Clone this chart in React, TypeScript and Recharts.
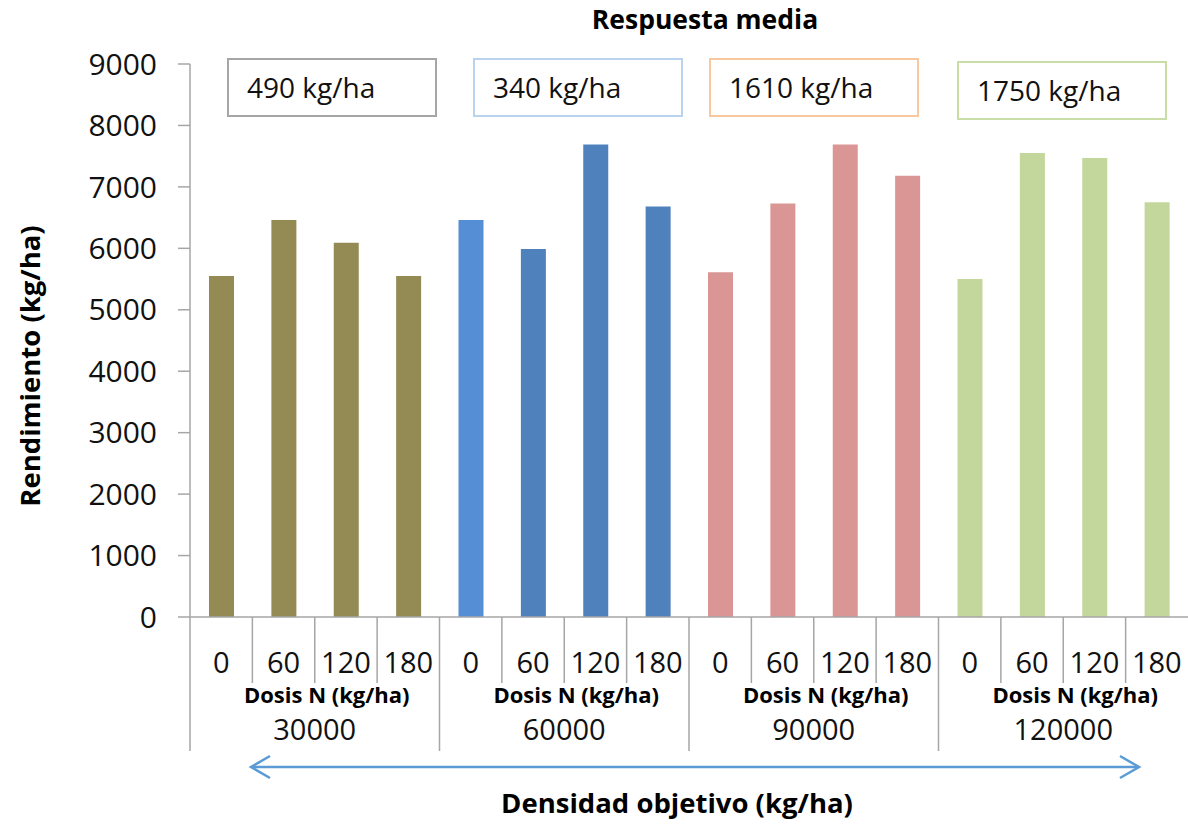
import { BarChart, Bar, XAxis, YAxis, Cell } from "recharts";

// categories
const doses = ["0", "60", "120", "180"];
const densities = ["30000", "60000", "90000", "120000"];

// mean yield (kg/ha) per density, one value per N dose
const yield30000 = [5550, 6460, 6090, 5550];
const yield60000 = [6460, 5990, 7690, 6680];
const yield90000 = [5610, 6730, 7690, 7180];
const yield120000 = [5500, 7550, 7470, 6750];

// response boxes above each group
const responses = ["490 kg/ha", "340 kg/ha", "1610 kg/ha", "1750 kg/ha"];

const yTicks = [0, 1000, 2000, 3000, 4000, 5000, 6000, 7000, 8000, 9000];

// styles
const groupColors = ["#948A54", "#4F81BD", "#D99694", "#C3D69B"];
const firstBlue = "#558ED5";
const boxBorders = ["#A6A6A6", "#B9D3EE", "#FAC89E", "#C9DDA6"];
const boxLeft = [227, 473, 709, 957];
const boxTop = [58, 58, 58, 61];

const W = 1188;
const H = 824;
const AXIS_W = 190;
const AXIS_Y = 617;
const BAND = (W - AXIS_W) / 16;
const GREY = "#A6A6A6";
const FONT = "'Open Sans', sans-serif";

const allYields = [yield30000, yield60000, yield90000, yield120000];
const data = densities.flatMap((d, g) =>
  doses.map((dose, i) => ({ key: `${d}-${dose}`, dose, density: d, group: g, value: allYields[g][i] }))
);

function barColor(index: number) {
  if (index === 4) return firstBlue;
  return groupColors[Math.floor(index / 4)];
}

function DoseTick(props: any) {
  const { x, y, index } = props;
  const row = data[index];
  const left = x - BAND / 2;
  const first = index % 4 === 0;
  const groupCenter = left + BAND * 2;
  return (
    <g>
      <line x1={left} y1={y} x2={left} y2={y + (first ? 134 : 66)} stroke={GREY} strokeWidth={1.5} />
      <text x={x} y={y + 56} textAnchor="middle" fontSize={29} fill="#111" fontFamily={FONT}>
        {row.dose}
      </text>
      {first && (
        <>
          <text x={groupCenter + 12} y={y + 86} textAnchor="middle" fontSize={22} fontWeight="bold" fill="#000" fontFamily={FONT}>
            Dosis N (kg/ha)
          </text>
          <text x={groupCenter} y={y + 123} textAnchor="middle" fontSize={29} fill="#111" fontFamily={FONT}>
            {row.density}
          </text>
        </>
      )}
    </g>
  );
}

export default function App() {
  return (
    <div style={{ position: "absolute", left: 0, top: 0, width: W, height: H, background: "#fff", fontFamily: FONT }}>
      <BarChart width={W} height={H} data={data} margin={{ top: 64, right: 0, bottom: 0, left: 0 }} barSize={25}>
        <YAxis
          domain={[0, 9000]}
          ticks={yTicks}
          width={AXIS_W}
          tickSize={12}
          tickMargin={21}
          axisLine={{ stroke: GREY, strokeWidth: 1.5 }}
          tickLine={{ stroke: GREY, strokeWidth: 1.5 }}
          tick={{ fontSize: 30, fill: "#111", fontFamily: FONT }}
        />
        <XAxis
          dataKey="key"
          interval={0}
          height={H - AXIS_Y}
          tickSize={0}
          tickMargin={0}
          tickLine={false}
          axisLine={{ stroke: GREY, strokeWidth: 1.5 }}
          tick={<DoseTick />}
        />
        <Bar dataKey="value" isAnimationActive={false}>
          {data.map((d, i) => (
            <Cell key={d.key} fill={barColor(i)} />
          ))}
        </Bar>
      </BarChart>

      {/* title */}
      <div style={{ position: "absolute", left: 0, width: 1410, top: 1, textAlign: "center", fontSize: 26.5, fontWeight: "bold" }}>
        Respuesta media
      </div>

      {/* response boxes */}
      {responses.map((r, i) => (
        <div
          key={r}
          style={{
            position: "absolute",
            left: boxLeft[i],
            top: boxTop[i],
            width: 210,
            height: 59,
            border: `2px solid ${boxBorders[i]}`,
            fontSize: 28,
            lineHeight: "55px",
            paddingLeft: 18,
            boxSizing: "border-box",
            color: "#111",
          }}
        >
          {r}
        </div>
      ))}

      {/* y axis title */}
      <div
        style={{
          position: "absolute",
          left: 29,
          top: 366,
          transform: "translate(-50%, -50%) rotate(-90deg)",
          whiteSpace: "nowrap",
          fontSize: 27.5,
          fontWeight: "bold",
        }}
      >
        Rendimiento (kg/ha)
      </div>

      {/* density arrow */}
      <svg style={{ position: "absolute", left: 0, top: 0 }} width={W} height={H}>
        <line x1={252} y1={767} x2={1137} y2={767} stroke="#5B9BD5" strokeWidth={2.5} />
        <polyline points="270,756 251,767 270,778" fill="none" stroke="#5B9BD5" strokeWidth={2.5} />
        <polyline points="1120,756 1139,767 1120,778" fill="none" stroke="#5B9BD5" strokeWidth={2.5} />
      </svg>

      {/* x axis title */}
      <div style={{ position: "absolute", left: 0, width: 1354, top: 784, textAlign: "center", fontSize: 27.5, fontWeight: "bold" }}>
        Densidad objetivo (kg/ha)
      </div>
    </div>
  );
}
